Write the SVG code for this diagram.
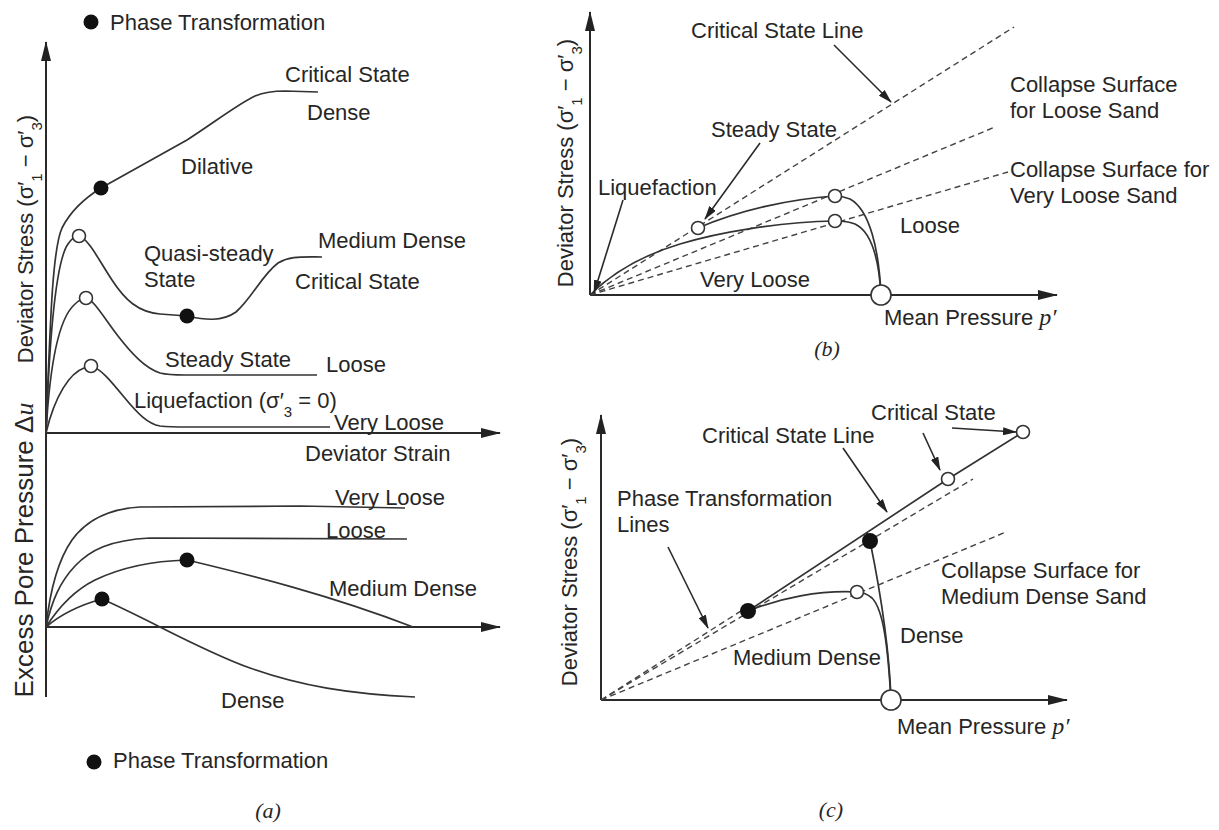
<svg xmlns="http://www.w3.org/2000/svg" width="1219" height="830" viewBox="0 0 1219 830">
<style>
.t{font-family:"Liberation Sans",Arial,sans-serif;font-size:22px;fill:#262626}
.big{font-size:26px}
.it{font-family:"Liberation Serif","Times New Roman",serif;font-style:italic}
.ax{stroke:#2a2a2a;stroke-width:2;fill:none}
.c{stroke:#333;stroke-width:1.7;fill:none}
.d{stroke:#444;stroke-width:1.4;fill:none;stroke-dasharray:6 4}
.o{fill:#fff;stroke:#333;stroke-width:1.6}
.k{fill:#111}
.ar{stroke:#2a2a2a;stroke-width:1.6;fill:none}
</style>
<defs>
<marker id="axh" viewBox="0 0 20 10" refX="19" refY="5" markerWidth="20" markerHeight="10" markerUnits="userSpaceOnUse" orient="auto"><path d="M0,0 L20,5 L0,10 z" fill="#222"/></marker>
<marker id="lh" viewBox="0 0 14 8" refX="13" refY="4" markerWidth="14" markerHeight="8" markerUnits="userSpaceOnUse" orient="auto"><path d="M0,0 L14,4 L0,8 z" fill="#222"/></marker>
</defs>
<rect width="1219" height="830" fill="#fff"/>

<!-- Panel (a) -->
<g id="panel-a-axes">
<line class="ax" x1="46" y1="697" x2="46" y2="42" marker-end="url(#axh)"/>
<line class="ax" x1="46" y1="433" x2="500" y2="433" marker-end="url(#axh)"/>
<line class="ax" x1="46" y1="627" x2="500" y2="627" marker-end="url(#axh)"/>
</g>
<g id="panel-a-curves">
<path class="c" d="M46,433 C50,330 52,250 62,228 C70,212 85,198 101,188 L187,140 C215,122 238,104 255,96 C265,92 275,91 285,91 L318,92"/>
<path class="c" d="M46,433 C50,320 58,258 68,244 C72,238 76,236 79,236 C88,238 100,262 112,280 C125,300 138,312 160,314 L187,316 C205,320 222,322 236,312 C252,298 262,275 278,263 C290,256 300,257 322,257"/>
<path class="c" d="M46,433 C50,360 60,318 74,305 C79,300 83,298 86,298 C94,300 104,318 118,336 C132,354 145,368 160,373 C168,375 175,375 185,375 L317,375"/>
<path class="c" d="M46,433 C55,395 70,373 84,368 C87,367 89,366 91,366 C100,368 110,380 124,397 C138,414 148,424 160,426 C168,427 180,427 190,427 L330,427"/>
<path class="c" d="M46,627 C50,590 58,560 72,540 C85,522 105,509 140,507 L300,506 L405,508"/>
<path class="c" d="M46,627 C52,600 60,582 75,566 C90,550 110,540 150,538 L407,539"/>
<path class="c" d="M46,627 C60,605 75,590 95,580 C120,568 150,561 187,560 C250,575 330,595 413,627"/>
<path class="c" d="M46,627 C60,615 80,605 102,599 C150,620 200,650 250,668 C300,686 350,694 415,697"/>
</g>
<g id="panel-a-markers">
<circle class="k" cx="101" cy="188" r="7.5"/>
<circle class="o" cx="79" cy="236" r="6.5"/>
<circle class="k" cx="187" cy="316" r="7.5"/>
<circle class="o" cx="86" cy="298" r="6.5"/>
<circle class="o" cx="91" cy="366" r="6.5"/>
<circle class="k" cx="187" cy="560" r="7.5"/>
<circle class="k" cx="102" cy="599" r="7.5"/>
</g>
<g id="panel-a-labels">
<g id="legend-top"><circle class="k" cx="91" cy="22" r="7.5"/><text class="t" x="110" y="30">Phase Transformation</text></g>
<text class="t" x="285" y="82">Critical State</text>
<text class="t" x="307" y="120">Dense</text>
<text class="t" x="181" y="174">Dilative</text>
<text class="t" x="318" y="248">Medium Dense</text>
<text class="t" x="144" y="261">Quasi-steady</text>
<text class="t" x="144" y="287">State</text>
<text class="t" x="295" y="289">Critical State</text>
<text class="t" x="165" y="367">Steady State</text>
<text class="t" x="326" y="372">Loose</text>
<text class="t" x="134" y="408">Liquefaction (σ′<tspan baseline-shift="sub" font-size="15">3</tspan> = 0)</text>
<text class="t" x="334" y="430">Very Loose</text>
<text class="t" x="305" y="461">Deviator Strain</text>
<text class="t" x="335" y="505">Very Loose</text>
<text class="t" x="326" y="538">Loose</text>
<text class="t" x="329" y="596">Medium Dense</text>
<text class="t" x="221" y="708">Dense</text>
<g id="legend-bottom"><circle class="k" cx="94" cy="762" r="7.5"/><text class="t" x="113" y="768">Phase Transformation</text></g>
<text class="t" transform="translate(33,239) rotate(-90)" text-anchor="middle">Deviator Stress (σ′<tspan baseline-shift="sub" font-size="15">1</tspan> − σ′<tspan baseline-shift="sub" font-size="15">3</tspan>)</text>
<text class="t big" transform="translate(33,550) rotate(-90)" text-anchor="middle">Excess Pore Pressure Δ<tspan class="it">u</tspan></text>
<text class="t it" x="268" y="818" text-anchor="middle" font-size="24">(a)</text>
</g>

<!-- Panel (b) -->
<g id="panel-b-axes">
<line class="ax" x1="590" y1="295" x2="590" y2="12" marker-end="url(#axh)"/>
<line class="ax" x1="590" y1="295" x2="1057" y2="295" marker-end="url(#axh)"/>
</g>
<g id="panel-b-lines">
<line class="d" x1="590" y1="295" x2="1014" y2="27"/>
<line class="d" x1="590" y1="295" x2="995" y2="127"/>
<line class="d" x1="590" y1="295" x2="1008" y2="172"/>
<path class="c" d="M881,295 C879,250 870,210 850,199 C845,197 840,196 835,196 C790,199 740,210 698,228"/>
<path class="c" d="M881,295 C879,260 872,232 855,224 C848,221 842,221 835,221 C780,222 720,232 680,244 C640,256 610,275 590,295"/>
</g>
<g id="panel-b-markers">
<circle class="o" cx="835" cy="196" r="6.5"/>
<circle class="o" cx="835" cy="221" r="6.5"/>
<circle class="o" cx="698" cy="228" r="6.5"/>
<circle class="o" cx="881" cy="295" r="10"/>
</g>
<g id="panel-b-labels">
<text class="t" x="691" y="38">Critical State Line</text>
<text class="t" x="711" y="137">Steady State</text>
<text class="t" x="598" y="195">Liquefaction</text>
<text class="t" x="1010" y="92">Collapse Surface</text>
<text class="t" x="1010" y="118">for Loose Sand</text>
<text class="t" x="1010" y="177">Collapse Surface for</text>
<text class="t" x="1010" y="203">Very Loose Sand</text>
<text class="t" x="900" y="233">Loose</text>
<text class="t" x="700" y="287">Very Loose</text>
<text class="t" x="884" y="325">Mean Pressure <tspan class="it" font-size="24">p′</tspan></text>
<text class="t it" x="827" y="356" text-anchor="middle" font-size="24">(b)</text>
<text class="t" transform="translate(573,163) rotate(-90)" text-anchor="middle">Deviator Stress (σ′<tspan baseline-shift="sub" font-size="15">1</tspan> − σ′<tspan baseline-shift="sub" font-size="15">3</tspan>)</text>
</g>

<!-- Panel (c) -->
<g id="panel-c-axes">
<line class="ax" x1="601" y1="700" x2="601" y2="415" marker-end="url(#axh)"/>
<line class="ax" x1="601" y1="700" x2="1067" y2="700" marker-end="url(#axh)"/>
</g>
<g id="panel-c-lines">
<line class="d" x1="601" y1="700" x2="752" y2="604"/>
<line class="d" x1="601" y1="700" x2="973" y2="479"/>
<line class="d" x1="601" y1="700" x2="1006" y2="532"/>
<path class="c" d="M891,700 C888,650 884,610 872,598 C866,593 861,592 857,592 C820,590 780,598 748,611 L948,479 L1023,432"/>
<path class="c" d="M891,700 C889,640 878,580 870,541 L867,533"/>
</g>
<g id="panel-c-markers">
<circle class="o" cx="857" cy="592" r="6.5"/>
<circle class="k" cx="748" cy="611" r="8"/>
<circle class="k" cx="870" cy="541" r="8"/>
<circle class="o" cx="948" cy="479" r="6.5"/>
<circle class="o" cx="1023" cy="432" r="6.5"/>
<circle class="o" cx="891" cy="700" r="10"/>
</g>
<g id="panel-c-labels">
<text class="t" x="871" y="420">Critical State</text>
<text class="t" x="702" y="443">Critical State Line</text>
<text class="t" x="617" y="506">Phase Transformation</text>
<text class="t" x="617" y="532">Lines</text>
<text class="t" x="941" y="578">Collapse Surface for</text>
<text class="t" x="941" y="604">Medium Dense Sand</text>
<text class="t" x="900" y="643">Dense</text>
<text class="t" x="733" y="665">Medium Dense</text>
<text class="t" x="897" y="734">Mean Pressure <tspan class="it" font-size="24">p′</tspan></text>
<text class="t it" x="831" y="817" text-anchor="middle" font-size="24">(c)</text>
<text class="t" transform="translate(577,562) rotate(-90)" text-anchor="middle">Deviator Stress (σ′<tspan baseline-shift="sub" font-size="15">1</tspan> − σ′<tspan baseline-shift="sub" font-size="15">3</tspan>)</text>
</g>

<g id="connectors">
<line class="ar" x1="834" y1="45" x2="891" y2="102" marker-end="url(#lh)"/>
<line class="ar" x1="760" y1="143" x2="705" y2="219" marker-end="url(#lh)"/>
<line class="ar" x1="623" y1="200" x2="594" y2="293" marker-end="url(#lh)"/>
<line class="ar" x1="843" y1="448" x2="887" y2="512" marker-end="url(#lh)"/>
<line class="ar" x1="952" y1="428" x2="1016" y2="432" marker-end="url(#lh)"/>
<line class="ar" x1="923" y1="433" x2="940" y2="470" marker-end="url(#lh)"/>
<line class="ar" x1="668" y1="547" x2="708" y2="628" marker-end="url(#lh)"/>
</g>
</svg>
